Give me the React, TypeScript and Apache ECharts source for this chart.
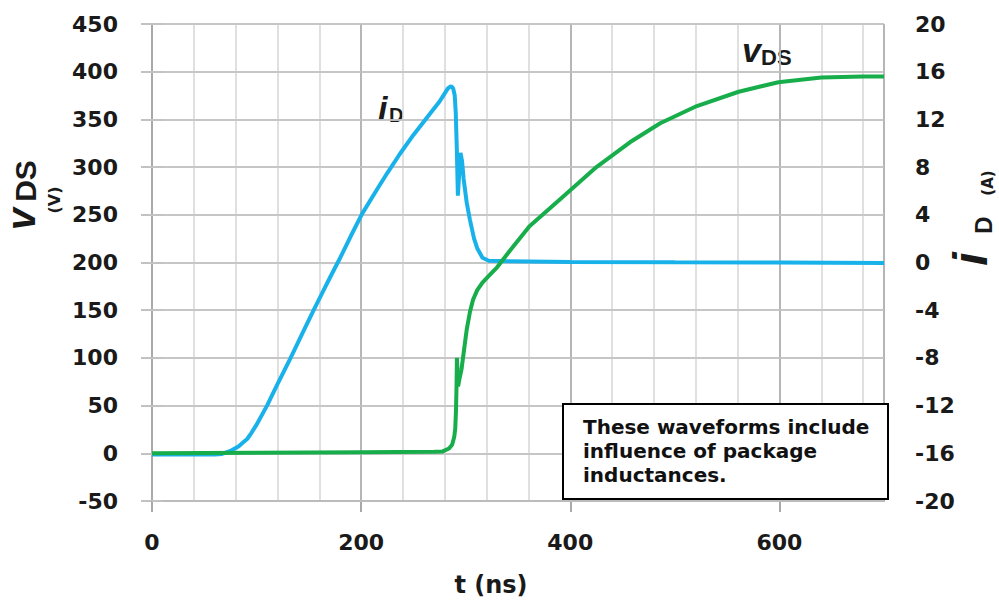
import React, { useEffect, useRef } from "react";
import * as echarts from "echarts";

// ---- data ----
const tID = [0, 30, 60, 67, 75, 83, 87, 91, 95, 100, 110, 120, 132, 143, 154, 162, 170, 180, 190, 201, 215, 225, 237, 250, 266, 275, 283, 286, 288, 289.5, 290.5, 291.5, 292.5, 295, 296.5, 298, 301, 304, 308, 311, 316, 322, 340, 400, 500, 600, 700];
const iD = [-16.1, -16.1, -16.1, -16.05, -15.8, -15.4, -15.1, -14.8, -14.3, -13.6, -12.0, -10.2, -8.1, -6.1, -4.1, -2.7, -1.3, 0.4, 2.2, 4.1, 6.1, 7.5, 9.1, 10.7, 12.5, 13.5, 14.6, 14.8, 14.6, 14.0, 12.5, 9.5, 5.6, 9.2, 8.5, 7.0, 5.0, 3.6, 2.0, 1.2, 0.4, 0.15, 0.1, 0.05, 0.02, 0, -0.05];

const tVDS = [0, 100, 200, 270, 278, 284, 287, 289, 290, 290.7, 291.2, 291.6, 292.2, 292.7, 294, 296, 298, 301, 304, 307, 311, 316, 323, 330, 342, 361, 393, 425, 457, 486, 521, 561, 599, 640, 680, 700];
const vDS = [0, 0.5, 1.2, 1.5, 2, 5, 9, 17, 26, 45, 70, 100, 85, 70, 78, 88, 105, 130, 148, 161, 171, 179, 187, 195, 212, 238, 269, 300, 326, 346, 364, 379, 389, 394, 395, 395];

const vTicks = [-50, 0, 50, 100, 150, 200, 250, 300, 350, 400, 450];
const xLabelStep = 200;
const xGridStep = 40;
const noteText = "These waveforms include\ninfluence of package\ninductances.";

const BLUE = "#19b1ea";
const GREEN = "#17ad4b";
const TXT = "#1a1a1a";
const NUM_FONT = "DejaVu Sans";
const VAR_FONT = "Liberation Sans";

export default function App() {
  const ref = useRef<HTMLDivElement>(null);
  useEffect(() => {
    if (!ref.current) return;
    const chart = echarts.init(ref.current, null, { renderer: "svg" });
    const idData = tID.map((t, i) => [t, iD[i]]);
    const vData = tVDS.map((t, i) => [t, vDS[i]]);
    const labelStyle = { fontFamily: NUM_FONT, fontWeight: "bold", fontSize: 22, color: TXT };
    const hgray = "#c2c2c2";
    const dark = "#a9a9a9";
    const rot = Math.PI / 2;
    chart.setOption({
      animation: false,
      backgroundColor: "#ffffff",
      grid: { left: 152, right: 115, top: 24, bottom: 100 },
      xAxis: [
        {
          type: "value",
          min: 0,
          max: 700,
          interval: xGridStep,
          axisLine: { show: true, onZero: false, lineStyle: { color: dark, width: 2 } },
          axisTick: { show: false },
          axisLabel: { show: false },
          splitLine: { show: true, lineStyle: { color: "#d6d6d6", width: 1.5 } },
        },
        {
          type: "value",
          position: "bottom",
          min: 0,
          max: 700,
          interval: xLabelStep,
          axisLine: { show: false, onZero: false },
          axisTick: { show: true, length: 11, lineStyle: { color: dark, width: 2 } },
          axisLabel: {
            ...labelStyle,
            margin: 30,
            showMaxLabel: false,
            formatter: (v: number) => (v % xLabelStep === 0 ? String(v) : ""),
          },
          splitLine: { show: true, lineStyle: { color: dark, width: 1.5 } },
        },
      ],
      yAxis: [
        {
          type: "value",
          min: -50,
          max: 450,
          interval: 50,
          axisLine: { show: true, lineStyle: { color: dark, width: 1.5 } },
          axisTick: { show: true, length: 11, lineStyle: { color: hgray, width: 2 } },
          axisLabel: { ...labelStyle, margin: 34 },
          splitLine: { show: true, lineStyle: { color: hgray, width: 1.5 } },
        },
        {
          type: "value",
          min: -20,
          max: 20,
          interval: 4,
          position: "right",
          axisLine: { show: true, lineStyle: { color: dark, width: 1.5 } },
          axisTick: { show: true, length: 11, lineStyle: { color: hgray, width: 2 } },
          axisLabel: { ...labelStyle, margin: 31 },
          splitLine: { show: false },
        },
      ],
      series: [
        {
          name: "iD",
          type: "line",
          xAxisIndex: 0,
          yAxisIndex: 1,
          data: idData,
          showSymbol: false,
          symbol: "none",
          lineStyle: { color: BLUE, width: 4 },
          z: 3,
        },
        {
          name: "vDS",
          type: "line",
          xAxisIndex: 0,
          yAxisIndex: 0,
          data: vData,
          showSymbol: false,
          symbol: "none",
          lineStyle: { color: GREEN, width: 4 },
          z: 4,
          markLine: {
            z: 1,
            silent: true,
            animation: false,
            symbol: ["none", "none"],
            label: { show: false },
            emphasis: { disabled: true },
            lineStyle: { color: hgray, width: 1.5, type: "solid" },
            data: vTicks.map((v) => ({ yAxis: v })),
          },
        },
      ],
      graphic: [
        { type: "text", x: 491, y: 585, style: { text: "t (ns)", fontFamily: NUM_FONT, fontWeight: "bold", fontSize: 24, fill: TXT, align: "center", verticalAlign: "middle" } },
        { type: "text", x: 21, y: 219, rotation: rot, style: { text: "v", fontFamily: VAR_FONT, fontWeight: "bold", fontStyle: "italic", fontSize: 40, fill: TXT, align: "center", verticalAlign: "middle" } },
        { type: "text", x: 25, y: 181, rotation: rot, style: { text: "DS", fontFamily: VAR_FONT, fontWeight: "bold", fontSize: 30, fill: TXT, align: "center", verticalAlign: "middle" } },
        { type: "text", x: 54, y: 200, rotation: rot, style: { text: "(V)", fontFamily: NUM_FONT, fontWeight: "bold", fontSize: 16, fill: TXT, align: "center", verticalAlign: "middle" } },
        { type: "text", x: 970, y: 259, rotation: rot, style: { text: "i", fontFamily: VAR_FONT, fontWeight: "bold", fontStyle: "italic", fontSize: 48, fill: TXT, align: "center", verticalAlign: "middle" } },
        { type: "text", x: 983, y: 225, rotation: rot, style: { text: "D", fontFamily: VAR_FONT, fontWeight: "bold", fontSize: 24, fill: TXT, align: "center", verticalAlign: "middle" } },
        { type: "text", x: 988, y: 183, rotation: rot, style: { text: "(A)", fontFamily: NUM_FONT, fontWeight: "bold", fontSize: 15, fill: TXT, align: "center", verticalAlign: "middle" } },
        { type: "text", x: 378, y: 108, style: { text: "i", fontFamily: VAR_FONT, fontWeight: "bold", fontStyle: "italic", fontSize: 34, fill: TXT, align: "left", verticalAlign: "middle" } },
        { type: "text", x: 389, y: 115, style: { text: "D", fontFamily: VAR_FONT, fontWeight: "bold", fontSize: 20, fill: TXT, align: "left", verticalAlign: "middle" } },
        { type: "text", x: 742, y: 50, style: { text: "v", fontFamily: VAR_FONT, fontWeight: "bold", fontStyle: "italic", fontSize: 34, fill: TXT, align: "left", verticalAlign: "middle" } },
        { type: "text", x: 761, y: 57, style: { text: "DS", fontFamily: VAR_FONT, fontWeight: "bold", fontSize: 22, fill: TXT, align: "left", verticalAlign: "middle" } },
        { type: "rect", shape: { x: 563, y: 404, width: 325, height: 95 }, style: { fill: "#ffffff", stroke: "#000000", lineWidth: 2 }, z: 10 },
        { type: "text", x: 583, y: 451, z: 11, style: { text: noteText, fontFamily: NUM_FONT, fontWeight: "bold", fontSize: 20, lineHeight: 24, fill: "#111111", align: "left", verticalAlign: "middle" } },
      ],
    });
    return () => chart.dispose();
  }, []);
  return <div ref={ref} style={{ position: "fixed", left: 0, top: 0, width: 999, height: 601, background: "#fff" }} />;
}
